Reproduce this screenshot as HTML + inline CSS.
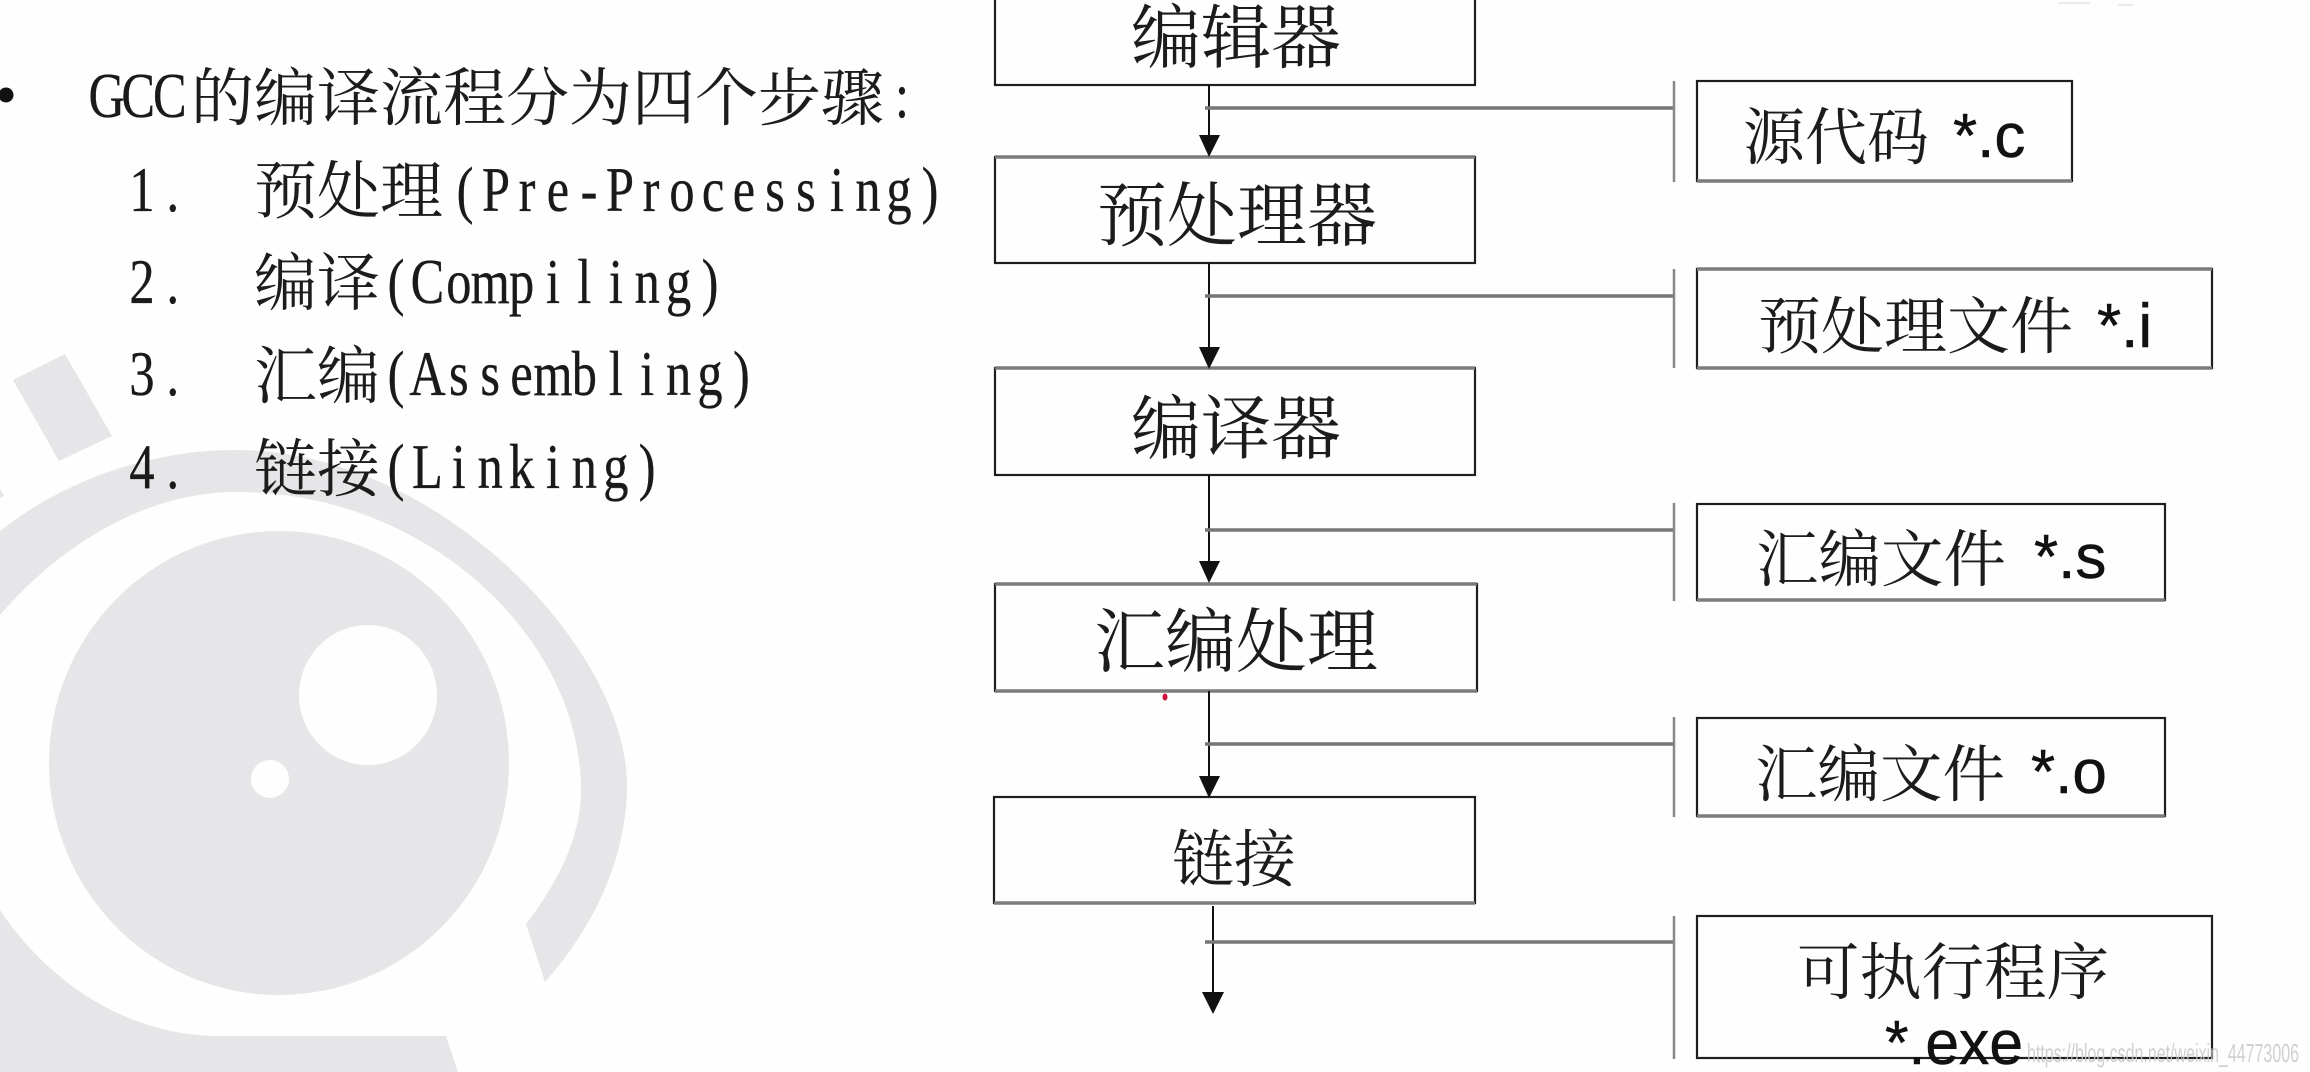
<!DOCTYPE html>
<html><head><meta charset="utf-8"><style>
html,body{margin:0;padding:0;background:#fefefe;width:2310px;height:1072px;overflow:hidden}
svg{display:block}
.c{font-family:"Liberation Serif","Noto Serif CJK SC",serif;fill:#1c1c1c}
.m{font-family:"Liberation Serif",serif;fill:#1a1a1a;text-anchor:middle;stroke:#1a1a1a;stroke-width:.35}
.s{font-family:"Liberation Sans",sans-serif;fill:#111;stroke:#111;stroke-width:.5}
.b{fill:none;stroke:#1e1e1e;stroke-width:2.2}
.g{stroke:#7c7c7c;stroke-width:3.5}
.h{stroke:#777;stroke-width:3.5}
.v{stroke:#888;stroke-width:2.5}
.l{stroke:#111;stroke-width:2}
</style></head><body>
<svg width="2310" height="1072" viewBox="0 0 2310 1072" xmlns="http://www.w3.org/2000/svg">
<rect width="2310" height="1072" fill="#fefefe"/>
<g fill="#e6e6e8">
<polygon points="13,380 65,354 112,436 59,461"/>
<polygon points="0,489 4,496 0,498"/>
<path d="M545 982C600 920 627 850 627 785C627 650 440 450 236 450C150 450 65 480 0 531L0 615C65 540 150 492 236 492C430 492 581 640 581 790C581 835 560 880 526 924Z"/>
<path d="M0 910C50 985 130 1036 219 1036L446 1036L458 1072L0 1072Z"/>
<ellipse cx="279" cy="763" rx="230" ry="232"/>
</g>
<ellipse cx="368" cy="695" rx="69" ry="70" fill="#fefefe"/>
<circle cx="270" cy="779" r="19" fill="#fefefe"/>

<circle cx="6" cy="95" r="7.5" fill="#111"/>
<g font-size="63">
<text class="c" x="191" y="120" textLength="693" lengthAdjust="spacingAndGlyphs">的编译流程分为四个步骤</text>
<text class="c" x="254" y="213" textLength="189" lengthAdjust="spacingAndGlyphs">预处理</text>
<text class="c" x="254" y="305" textLength="126" lengthAdjust="spacingAndGlyphs">编译</text>
<text class="c" x="254" y="398" textLength="126" lengthAdjust="spacingAndGlyphs">汇编</text>
<text class="c" x="254" y="491" textLength="126" lengthAdjust="spacingAndGlyphs">链接</text>
<g transform="scale(.8,1)">
<text class="m" x="133.4 172.8 212.2" y="117">GCC</text>
<text class="m" x="1127.5" y="117">:</text>
<text class="m" x="177.5 216" y="211">1.</text>
<text class="m" x="581.3 620 658.8 697.5 736.3 775 813.8 852.5 891.3 930 968.8 1007.5 1046.3 1085 1123.8 1162.5" y="211">(Pre-Processing)</text>
<text class="m" x="177.5 216" y="303">2.</text>
<text class="m" x="495 534.3 573.5 612.8 652 691.3 730.5 769.8 809 848.3 887.5" y="303">(Compiling)</text>
<text class="m" x="177.5 216" y="395">3.</text>
<text class="m" x="495 534.3 573.5 612.8 652 691.3 730.5 769.8 809 848.3 887.5 926.8" y="395">(Assembling)</text>
<text class="m" x="177.5 216" y="488">4.</text>
<text class="m" x="495 534.3 573.5 612.8 652 691.3 730.5 769.8 809" y="488">(Linking)</text>
</g>
</g>

<rect class="b" x="995" y="-10" width="480" height="95"/>
<rect class="b" x="995" y="157" width="480" height="106"/>
<rect class="b" x="995" y="368" width="480" height="107"/>
<rect class="b" x="995" y="584" width="482" height="107"/>
<rect class="b" x="994" y="797" width="481" height="106"/>
<line class="g" x1="995" y1="157" x2="1475" y2="157"/>
<line class="g" x1="995" y1="368" x2="1475" y2="368"/>
<line class="g" x1="995" y1="584" x2="1477" y2="584"/>
<line class="g" x1="995" y1="691" x2="1477" y2="691"/>
<line class="g" x1="994" y1="903" x2="1475" y2="903"/>

<g font-size="70">
<text class="c" x="1131" y="62" textLength="210" lengthAdjust="spacingAndGlyphs">编辑器</text>
<text class="c" x="1097" y="240" textLength="280" lengthAdjust="spacingAndGlyphs">预处理器</text>
<text class="c" x="1131" y="453" textLength="210" lengthAdjust="spacingAndGlyphs">编译器</text>
<text class="c" x="1094" y="666" textLength="284" lengthAdjust="spacingAndGlyphs">汇编处理</text>
</g>
<text class="c" font-size="62" x="1172" y="881" textLength="124" lengthAdjust="spacingAndGlyphs">链接</text>

<line class="l" x1="1209" y1="85" x2="1209" y2="140"/>
<polygon points="1199,135 1220,135 1209,157" fill="#111"/>
<line class="l" x1="1209" y1="263" x2="1209" y2="350"/>
<polygon points="1199,347 1220,347 1209,369" fill="#111"/>
<line class="l" x1="1209" y1="475" x2="1209" y2="565"/>
<polygon points="1199,561 1220,561 1209,583" fill="#111"/>
<line class="l" x1="1209" y1="691" x2="1209" y2="780"/>
<polygon points="1199,776 1220,776 1209,798" fill="#111"/>
<line class="l" x1="1213" y1="906" x2="1213" y2="995"/>
<polygon points="1202,992 1224,992 1213,1014" fill="#111"/>

<line class="h" x1="1205" y1="108" x2="1674" y2="108"/>
<line class="v" x1="1674" y1="81" x2="1674" y2="182"/>
<line class="h" x1="1205" y1="296" x2="1674" y2="296"/>
<line class="v" x1="1674" y1="269" x2="1674" y2="368"/>
<line class="h" x1="1205" y1="530" x2="1674" y2="530"/>
<line class="v" x1="1674" y1="503" x2="1674" y2="601"/>
<line class="h" x1="1205" y1="744" x2="1674" y2="744"/>
<line class="v" x1="1674" y1="717" x2="1674" y2="817"/>
<line class="h" x1="1205" y1="942" x2="1674" y2="942"/>
<line class="v" x1="1674" y1="916" x2="1674" y2="1059"/>

<rect class="b" x="1697" y="81" width="375" height="100"/>
<rect class="b" x="1697" y="269" width="515" height="99"/>
<rect class="b" x="1697" y="504" width="468" height="96"/>
<rect class="b" x="1697" y="718" width="468" height="98"/>
<rect class="b" x="1697" y="916" width="515" height="142"/>
<line class="g" x1="1697" y1="181" x2="2072" y2="181"/>
<line class="g" x1="1697" y1="269" x2="2212" y2="269"/>
<line class="g" x1="1697" y1="368" x2="2212" y2="368"/>
<line class="g" x1="1697" y1="600" x2="2165" y2="600"/>
<line class="g" x1="1697" y1="816" x2="2165" y2="816"/>

<g font-size="62">
<text class="c" x="1743" y="159" textLength="186" lengthAdjust="spacingAndGlyphs">源代码</text>
<text class="s" x="1953" y="157">*.c</text>
<text class="c" x="1758" y="348" textLength="315" lengthAdjust="spacingAndGlyphs">预处理文件</text>
<text class="s" x="2097" y="347">*.i</text>
<text class="c" x="1756" y="581" textLength="250" lengthAdjust="spacingAndGlyphs">汇编文件</text>
<text class="s" x="2034" y="578">*.s</text>
<text class="c" x="1755" y="796" textLength="250" lengthAdjust="spacingAndGlyphs">汇编文件</text>
<text class="s" x="2031" y="793">*.o</text>
<text class="c" x="1797" y="994" textLength="312" lengthAdjust="spacingAndGlyphs">可执行程序</text>
<text class="s" x="1885" y="1064" textLength="138" lengthAdjust="spacingAndGlyphs">*.exe</text>
</g>

<ellipse cx="1165" cy="697" rx="2.5" ry="3.5" fill="#d0103a"/>
<line x1="2058" y1="3" x2="2090" y2="3" stroke="#d8d8d8" stroke-width="1"/>
<line x1="2118" y1="5" x2="2133" y2="5" stroke="#d8d8d8" stroke-width="1"/>
<text x="2027" y="1062" font-family="Liberation Sans,sans-serif" font-size="26" fill="#c8c8c8" fill-opacity=".85" textLength="272" lengthAdjust="spacingAndGlyphs">https://blog.csdn.net/weixin_44773006</text>
</svg>
</body></html>
